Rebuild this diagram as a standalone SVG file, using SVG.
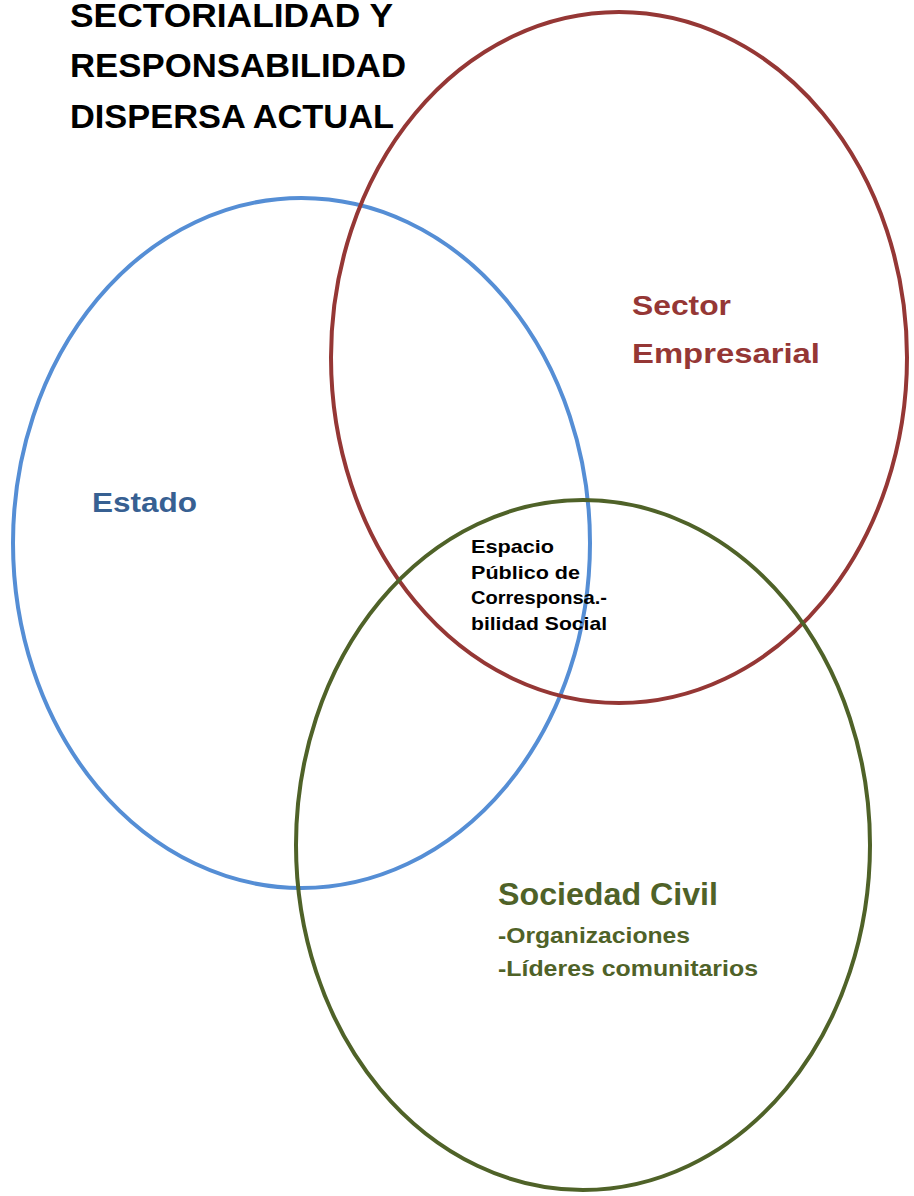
<svg xmlns="http://www.w3.org/2000/svg" width="914" height="1196" viewBox="0 0 914 1196">
<style>
.c{fill:none;stroke-width:4}
.t{font-family:"Liberation Sans",Arial,sans-serif;font-weight:bold}
</style>
<rect width="914" height="1196" fill="#ffffff"/>
<g id="title">
<text class="t" x="70" y="27" font-size="33.5" fill="#000" textLength="323" lengthAdjust="spacingAndGlyphs">SECTORIALIDAD  Y</text>
<text class="t" x="70" y="77" font-size="33.5" fill="#000" textLength="336" lengthAdjust="spacingAndGlyphs">RESPONSABILIDAD</text>
<text class="t" x="70" y="128" font-size="33.5" fill="#000" textLength="324" lengthAdjust="spacingAndGlyphs">DISPERSA ACTUAL</text>
</g>
<g id="estado">
<ellipse class="c" cx="301.5" cy="543" rx="288.5" ry="345" stroke="#558ED5"/>
<text class="t" x="92" y="512" font-size="28" fill="#376092" textLength="105" lengthAdjust="spacingAndGlyphs">Estado</text>
</g>
<g id="sector">
<ellipse class="c" cx="619" cy="357.5" rx="288" ry="345.5" stroke="#953735"/>
<text class="t" x="632" y="315" font-size="28" fill="#953735" textLength="99" lengthAdjust="spacingAndGlyphs">Sector</text>
<text class="t" x="632" y="363" font-size="28" fill="#953735" textLength="188" lengthAdjust="spacingAndGlyphs">Empresarial</text>
</g>
<g id="sociedad">
<ellipse class="c" cx="583" cy="845" rx="287" ry="345" stroke="#4F6228"/>
<text class="t" x="498" y="905" font-size="31" fill="#4F6228" textLength="220" lengthAdjust="spacingAndGlyphs">Sociedad Civil</text>
<text class="t" x="498" y="943" font-size="22" fill="#4F6228" textLength="192" lengthAdjust="spacingAndGlyphs">-Organizaciones</text>
<text class="t" x="498" y="976" font-size="22" fill="#4F6228" textLength="260" lengthAdjust="spacingAndGlyphs">-Líderes comunitarios</text>
</g>
<g id="espacio">
<text class="t" x="471" y="553" font-size="18.5" fill="#000" textLength="83" lengthAdjust="spacingAndGlyphs">Espacio</text>
<text class="t" x="471" y="579" font-size="18.5" fill="#000" textLength="109" lengthAdjust="spacingAndGlyphs">Público de</text>
<text class="t" x="471" y="604" font-size="18.5" fill="#000" textLength="136" lengthAdjust="spacingAndGlyphs">Corresponsa.-</text>
<text class="t" x="471" y="630" font-size="18.5" fill="#000" textLength="136" lengthAdjust="spacingAndGlyphs">bilidad Social</text>
</g>
<g id="connectors"></g>
</svg>
